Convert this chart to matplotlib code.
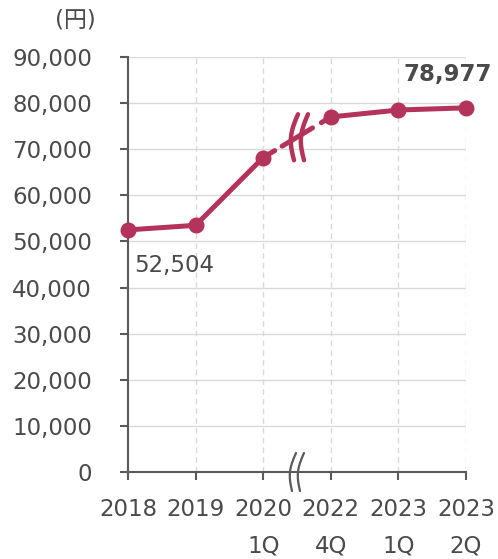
import numpy as np
import matplotlib
matplotlib.use("Agg")
import matplotlib.pyplot as plt
import matplotlib.transforms as mtransforms

plt.rcParams['font.family'] = ['DejaVu Sans', 'Noto Sans CJK JP']

categories = ["2018", "2019", "2020\n1Q", "2022\n4Q", "2023\n1Q", "2023\n2Q"]
values = [52504, 53500, 68200, 77000, 78500, 78977]
yticks = [0, 10000, 20000, 30000, 40000, 50000, 60000, 70000, 80000, 90000]
ytick_labels = ["0", "10,000", "20,000", "30,000", "40,000", "50,000",
                "60,000", "70,000", "80,000", "90,000"]
unit_label = "(円)"
first_label = "52,504"
last_label = "78,977"

LINE = "#B3335A"
TXT = "#4A4A4A"
AXC = "#5A5A5A"
GRID = "#D9D9D9"
FS = 16.5

W, H = 498, 559
fig = plt.figure(figsize=(W / 100, H / 100), dpi=100)
ax = fig.add_axes([128 / W, 1 - 472 / H, (466 - 128) / W, (472 - 57) / H])

x = np.arange(len(categories))
ax.set_xlim(0, len(categories) - 1)
ax.set_ylim(0, 90000)

# grid
for yv in yticks[1:]:
    ax.axhline(yv, color=GRID, lw=1.0, zorder=0)
for xv in x[1:]:
    ax.axvline(xv, color=GRID, lw=1.0, ls=(0, (4, 3)), zorder=0)

for s in ["top", "right"]:
    ax.spines[s].set_visible(False)
for s in ["left", "bottom"]:
    ax.spines[s].set_color(AXC)
    ax.spines[s].set_linewidth(1.5)

ax.set_yticks(yticks)
ax.set_yticklabels(ytick_labels)
ax.set_xticks(x)
ax.set_xticklabels(categories, linespacing=1.75, va="top")
ax.tick_params(axis="y", direction="out", length=6, width=1.5, color=AXC,
               labelsize=FS, labelcolor=TXT, pad=20)
ax.tick_params(axis="x", direction="out", length=6, width=1.5, color=AXC,
               labelsize=FS, labelcolor=TXT, pad=13)

kw = dict(color=LINE, lw=3.6, solid_capstyle="round", zorder=3)
# solid parts
ax.plot(x[:3], values[:3], **kw)
ax.plot(x[3:], values[3:], **kw)
# broken segment between index 2 and 3
x0, x1 = x[2], x[3]
y0, y1 = values[2], values[3]
for f0, f1 in [(0, 0.17), (0.28, 0.73), (0.86, 1.0)]:
    ax.plot([x0 + (x1 - x0) * f0, x0 + (x1 - x0) * f1],
            [y0 + (y1 - y0) * f0, y0 + (y1 - y0) * f1], **kw)
ax.plot(x, values, "o", color=LINE, ms=10.5, zorder=4, clip_on=False)

# break marks (in pixel offsets from an anchor)
def wave(anchor_x, anchor_y, dx, half, amp, color, lw):
    t = np.linspace(-1, 1, 40)
    px = dx - amp * np.cos(np.pi * t / 2) + 2.0 * t
    py = half * t
    tr = mtransforms.ScaledTranslation(anchor_x, anchor_y, ax.transData)
    ax.plot(px, py, color=color, lw=lw, solid_capstyle="round",
            transform=mtransforms.IdentityTransform() + tr, zorder=5, clip_on=False)

mx = (x0 + x1) / 2
my = (y0 + y1) / 2
wave(mx, my, -1, 23, 5, LINE, 3.2)
wave(mx, my, 9, 23, 5, LINE, 3.2)
wave(mx, 0, -3, 19, 4, AXC, 1.6)
wave(mx, 0, 5, 19, 4, AXC, 1.6)

# annotations
ax.annotate(first_label, (x[0], values[0]), xytext=(6, -24), textcoords="offset pixels",
            ha="left", va="top", fontsize=FS, color=TXT)
ax.annotate(last_label, (x[-1], values[-1]), xytext=(26, 22), textcoords="offset pixels",
            ha="right", va="bottom", fontsize=FS, color=TXT, fontweight="bold",
            annotation_clip=False)
fig.text(96 / W, 1 - 20 / H, unit_label, ha="right", va="center", fontsize=FS,
         color=TXT)

fig.savefig("out.png", dpi=100, facecolor="white")
